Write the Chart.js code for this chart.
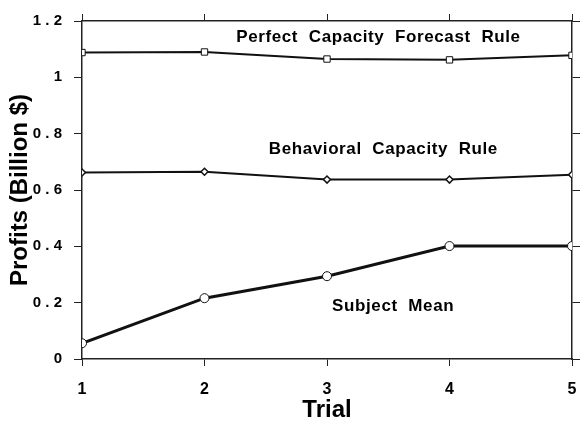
<!DOCTYPE html>
<html>
<head>
<meta charset="utf-8">
<script src="https://cdn.jsdelivr.net/npm/chart.js@4.4.0/dist/chart.umd.min.js"></script>
<style>
  body { margin: 0; background: #fff; }
  #wrap { width: 586px; height: 441px; }
</style>
</head>
<body>
<div id="wrap"><canvas id="myChart"></canvas></div>
<script>
var trials = [1, 2, 3, 4, 5];
var perfect = [1.088, 1.09, 1.065, 1.062, 1.078];
var behavioral = [0.662, 0.665, 0.637, 0.637, 0.654];
var subjectMean = [0.056, 0.216, 0.294, 0.401, 0.401];
var yTicks = [0, 0.2, 0.4, 0.6, 0.8, 1, 1.2];

// curve labels, in data units
var labelText = ["Perfect  Capacity  Forecast  Rule", "Behavioral  Capacity  Rule", "Subject  Mean"];
var labelX = [3.42, 3.46, 3.54];
var labelY = [1.143, 0.745, 0.187];

function pts(vals) {
  return vals.map(function (v, i) { return { x: trials[i], y: v }; });
}

var font = "'Liberation Sans', Arial, Helvetica, sans-serif";

var curveLabels = {
  id: 'curveLabels',
  afterDatasetsDraw: function (chart) {
    var ctx = chart.ctx;
    var xs = chart.scales.x, ys = chart.scales.y;
    ctx.save();
    ctx.fillStyle = '#000';
    ctx.font = 'bold 17px ' + font;
    ctx.letterSpacing = '0.6px';
    ctx.textAlign = 'center';
    ctx.textBaseline = 'middle';
    for (var i = 0; i < labelText.length; i++) {
      ctx.fillText(labelText[i], xs.getPixelForValue(labelX[i]), ys.getPixelForValue(labelY[i]));
    }
    ctx.restore();
  }
};

// stop the x axes from reserving room for their end labels
function noPad(s) { s.paddingLeft = 0; s.paddingRight = 0; }

var ctx = document.getElementById("myChart").getContext('2d');
var myChart = new Chart(ctx, {
  type: 'line',
  data: {
    datasets: [{
      label: 'Perfect Capacity Forecast Rule',
      data: pts(perfect),
      borderColor: '#111',
      borderWidth: 2,
      pointStyle: 'rect',
      pointRadius: 4.5,
      pointBackgroundColor: '#fff',
      pointBorderColor: '#111',
      pointBorderWidth: 1
    }, {
      label: 'Behavioral Capacity Rule',
      data: pts(behavioral),
      borderColor: '#111',
      borderWidth: 2,
      pointStyle: 'rectRot',
      pointRadius: 3.5,
      pointBackgroundColor: '#fff',
      pointBorderColor: '#111',
      pointBorderWidth: 1.5
    }, {
      label: 'Subject Mean',
      data: pts(subjectMean),
      borderColor: '#111',
      borderWidth: 3,
      pointStyle: 'circle',
      pointRadius: 4.5,
      pointBackgroundColor: '#fff',
      pointBorderColor: '#111',
      pointBorderWidth: 1
    }]
  },
  options: {
    responsive: true,
    maintainAspectRatio: false,
    animation: false,
    layout: { padding: 0 },
    plugins: { legend: { display: false }, tooltip: { enabled: false } },
    scales: {
      x: {
        type: 'linear',
        position: 'bottom',
        min: 1, max: 5,
        afterBuildTicks: function (s) { s.ticks = trials.map(function (v) { return { value: v }; }); },
        afterFit: function (s) { s.height = 82; noPad(s); },
        grid: { drawOnChartArea: false, tickLength: 7, color: '#222', lineWidth: 1 },
        border: { color: '#222', width: 1.5 },
        ticks: { color: '#000', padding: 14, font: { family: font, size: 16, weight: 'bold' } },
        title: { display: true, text: 'Trial', color: '#000', padding: { top: 0, bottom: 16 }, font: { family: font, size: 24, weight: 'bold' } }
      },
      x2: {
        type: 'linear',
        position: 'top',
        min: 1, max: 5,
        afterBuildTicks: function (s) { s.ticks = trials.map(function (v) { return { value: v }; }); },
        afterFit: function (s) { s.height = 19; noPad(s); },
        grid: { drawOnChartArea: false, tickLength: 7, color: '#222', lineWidth: 1 },
        border: { color: '#222', width: 1.5 },
        ticks: { display: false }
      },
      y: {
        type: 'linear',
        position: 'left',
        min: 0, max: 1.2,
        afterBuildTicks: function (s) { s.ticks = yTicks.map(function (v) { return { value: v }; }); },
        afterFit: function (s) { s.width = 82; },
        grid: { drawOnChartArea: false, tickLength: 8, color: '#222', lineWidth: 1 },
        border: { color: '#222', width: 1.5 },
        ticks: {
          color: '#000', padding: 12,
          font: { family: font, size: 15, weight: 'bold' },
          callback: function (v) { return String(v).split('').join(' '); }
        },
        title: { display: true, text: 'Profits (Billion $)', color: '#000', padding: { top: 6, bottom: 0 }, font: { family: font, size: 24, weight: 'bold' } }
      },
      y2: {
        type: 'linear',
        position: 'right',
        min: 0, max: 1.2,
        afterBuildTicks: function (s) { s.ticks = yTicks.map(function (v) { return { value: v }; }); },
        afterFit: function (s) { s.width = 14; },
        grid: { drawOnChartArea: false, tickLength: 8, color: '#222', lineWidth: 1 },
        border: { color: '#222', width: 1.5 },
        ticks: { display: false }
      }
    }
  },
  plugins: [curveLabels]
});
</script>
</body>
</html>
